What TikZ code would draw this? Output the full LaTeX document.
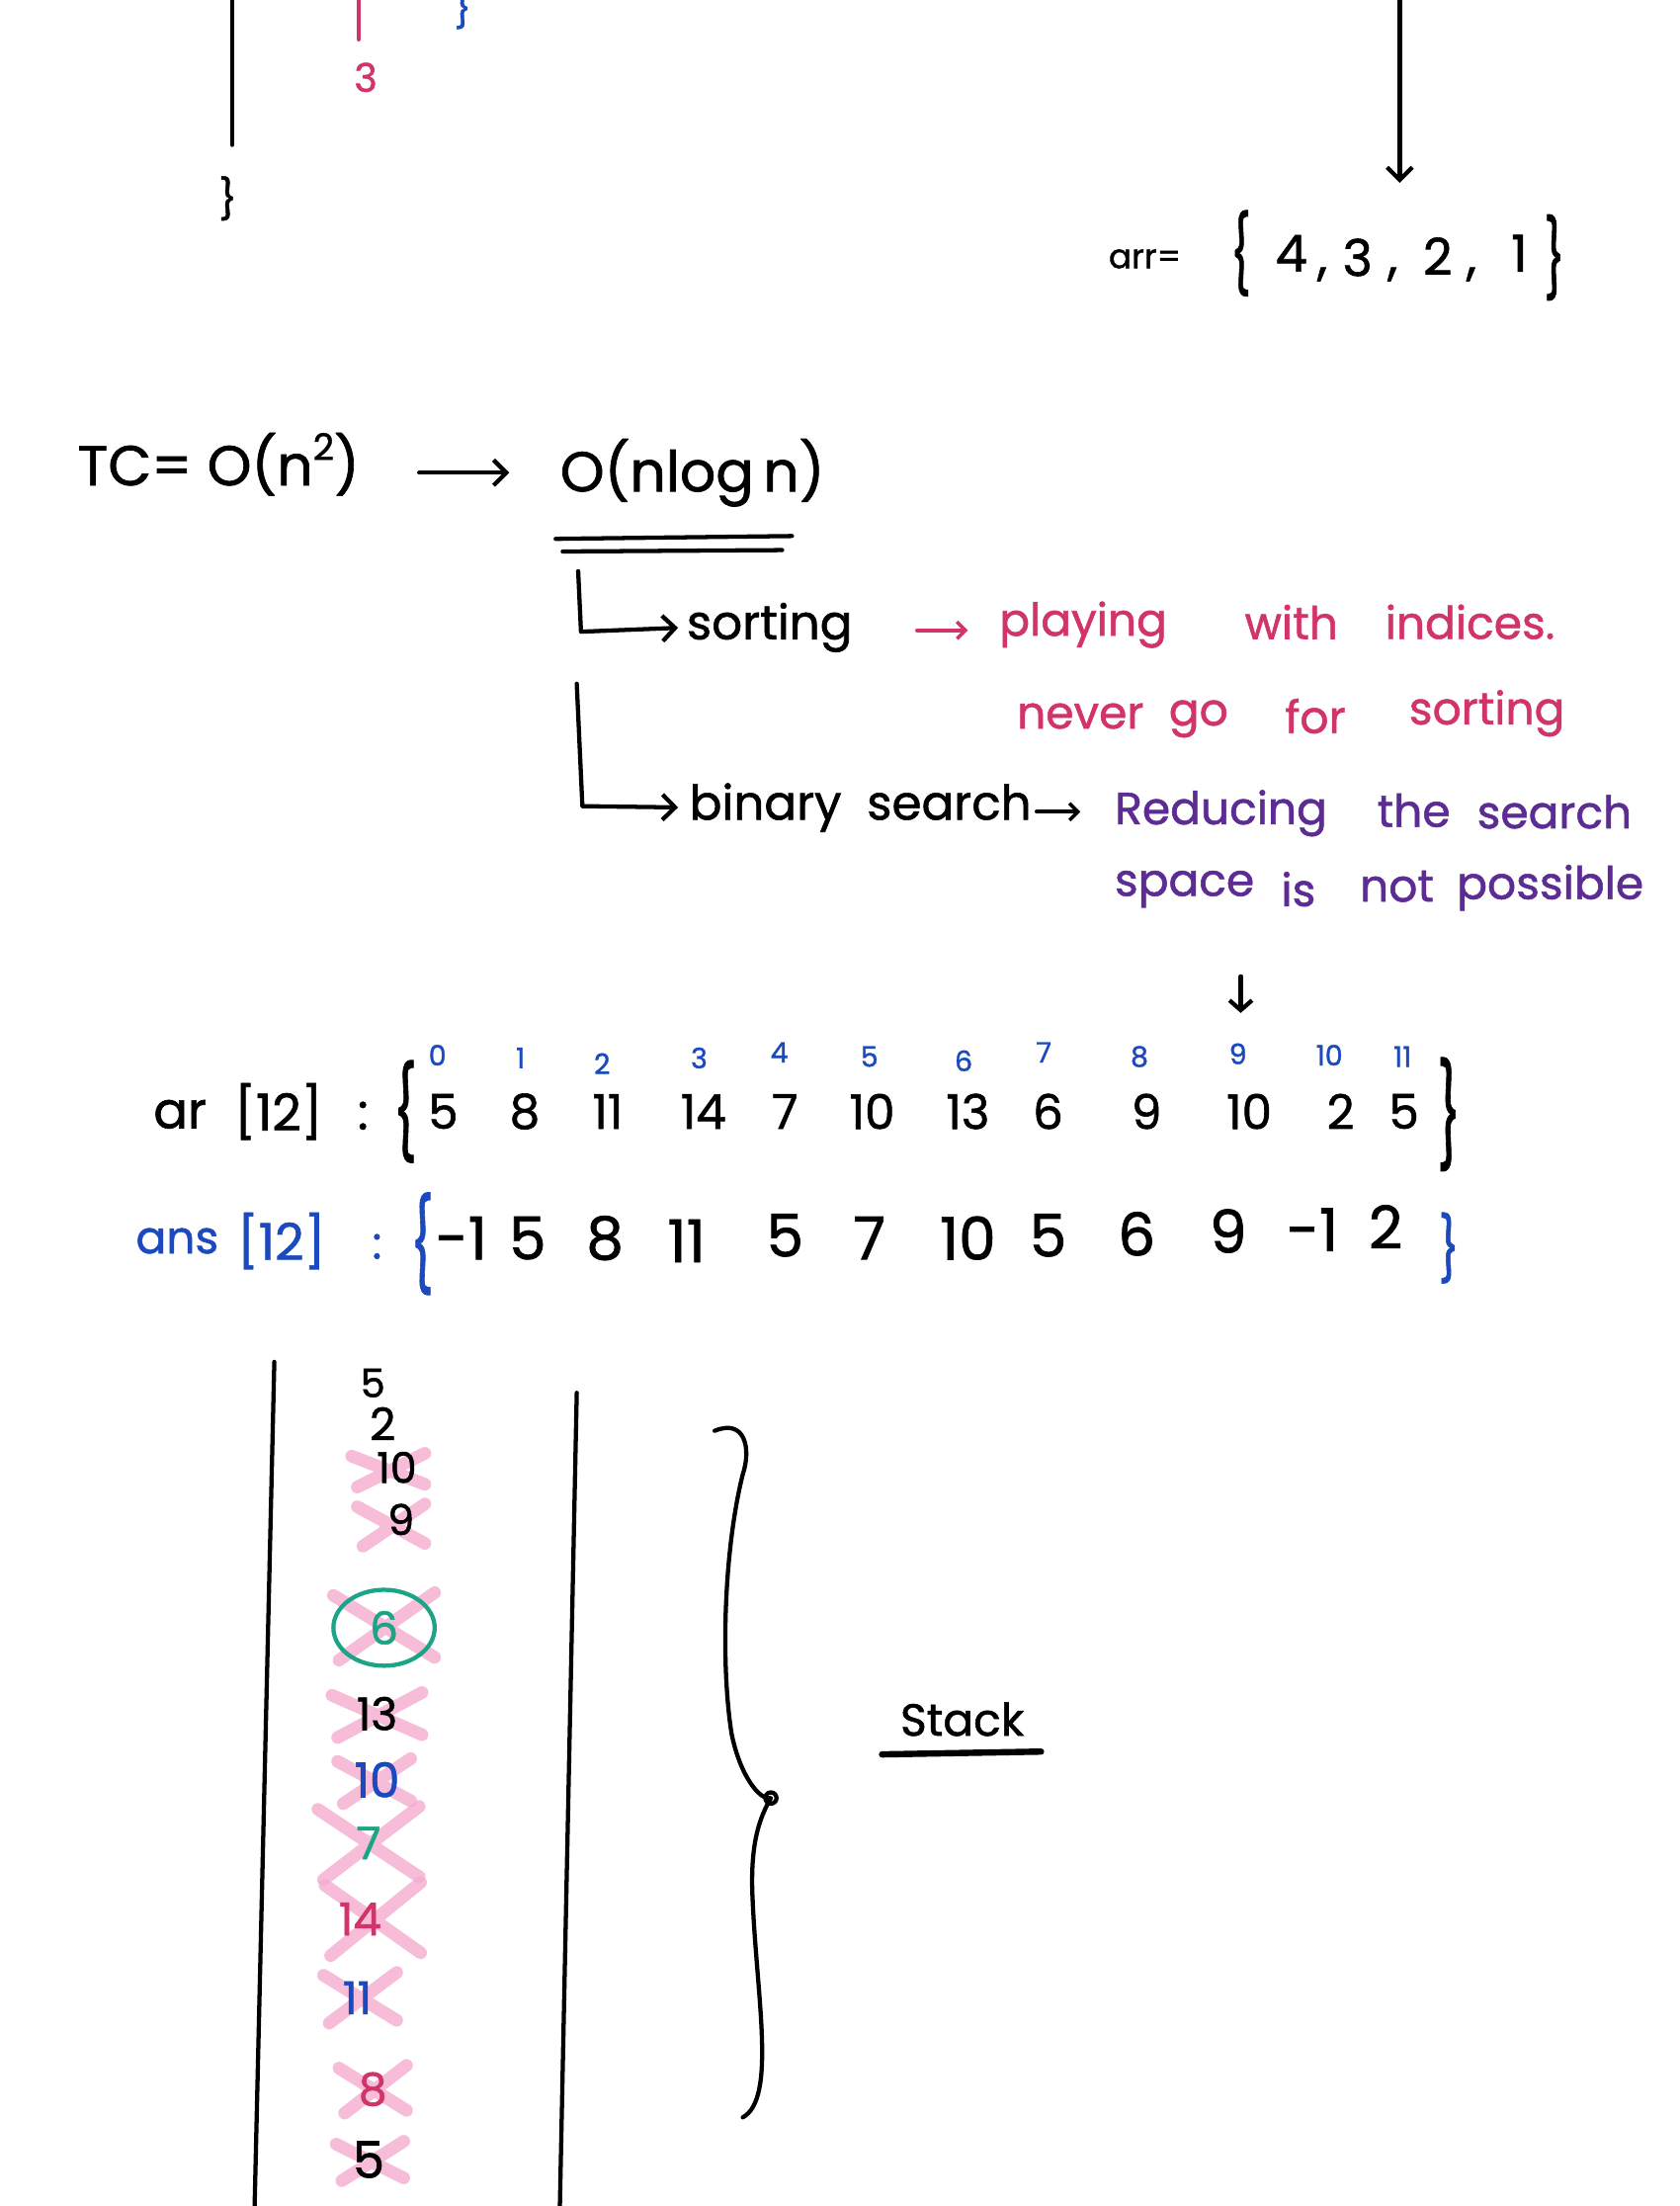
\documentclass[tikz,border=0pt]{standalone}
\usepackage{fontspec}
\setmainfont{Poppins}[FakeBold=1.2]
\usetikzlibrary{arrows.meta}
\definecolor{inkpink}{RGB}{208,52,104}
\definecolor{inkblue}{RGB}{28,74,190}
\definecolor{inkpurple}{RGB}{92,44,148}
\definecolor{inkgreen}{RGB}{28,164,134}
\definecolor{crossc}{RGB}{245,172,206}
\newcommand{\hwsize}[1]{\fontsize{#1}{#1}\selectfont}
\newcommand{\tallbr}[2]{\scalebox{1}[#1]{#2}}
\tikzset{
  hw/.style={font=\hwsize{#1}, inner sep=0pt, anchor=center},
  hw/.default=30,
  ink/.style={line width=3pt, line cap=round, line join=round},
  barb/.style={-{Straight Barb[length=9pt,width=18pt,line width=3pt]}},
  xmark/.style={line width=9pt, line cap=round, draw=crossc, opacity=0.8}
}
\begin{document}
\begin{tikzpicture}[x=1pt,y=-1pt]
\useasboundingbox (0,0) rectangle (1194,1568);

% ---------- top fragment ----------
\coordinate (tl1) at (165,0);
\coordinate (tl2) at (165,103);
\draw[ink] (tl1) -- (tl2);
\coordinate (tp1) at (255,0);
\coordinate (tp2) at (255,28);
\draw[ink,draw=inkpink] (tp1) -- (tp2);
\node[hw=28, text=inkpink] (p3) at (260,55) {3};
\node[hw=26, text=inkblue] (bbr) at (329,6) {\}};
\node[hw=28] (kbr) at (162,141) {\}};
\coordinate (ra1) at (995,0);
\coordinate (ra2) at (995,130);
\draw[ink,barb] (ra1) -- (ra2);
\node[hw=24, anchor=west] (arrlbl) at (788,184) {arr=};
\node[hw=32] (arrL) at (882,180) {\tallbr{1.7}{\{}};
\node[hw=36] (arrv1) at (918,180) {4};
\node[hw=36] (arrc1) at (940,195) {,};
\node[hw=36] (arrv2) at (965,183) {3};
\node[hw=36] (arrc2) at (990,195) {,};
\node[hw=36] (arrv3) at (1022,182) {2};
\node[hw=36] (arrc3) at (1046,195) {,};
\node[hw=36] (arrv4) at (1080,180) {1};
\node[hw=32] (arrR) at (1105,183) {\tallbr{1.7}{\}}};

% ---------- complexity ----------
\node[hw=40, anchor=west] (tc) at (55,330) {TC=\ O(n\raisebox{0.45em}{\hwsize{26}2})};
\node[hw=40, anchor=west] (onl) at (398,336) {O(nlog\,n)};
\coordinate (ta1) at (298,336);
\coordinate (ta2) at (362,336);
\draw[ink,barb] (ta1) -- (ta2);
\coordinate (u1a) at (395,383); \coordinate (u1b) at (563,381);
\coordinate (u2a) at (400,392); \coordinate (u2b) at (556,391);
\draw[ink] (u1a) -- (u1b);
\draw[ink] (u2a) -- (u2b);

% ---------- branches ----------
\node[hw=34, anchor=west] (sorting) at (488,446) {sorting};
\node[hw=34, anchor=west] (binary) at (490,574) {binary\ \ search};
\coordinate (e1) at (411,406);
\coordinate (e2) at (410,486);
\draw[ink,barb,shorten >=6pt] (e1) -- (413,449) -- (sorting.west);
\draw[ink,barb,shorten >=8pt] (e2) -- (414,573) -- (binary.west);

\coordinate (pa1) at (652,448);
\coordinate (pa2) at (688,448);
\draw[ink,-{Straight Barb[length=6pt,width=12pt,line width=2.5pt]},draw=inkpink] (pa1) -- (pa2);
\foreach \n/\w/\x/\y in {pw1/playing/770/444,pw2/with/918/442,pw3/indices./1045/442,
                         pw4/never/768/509,pw5/go/852/511,pw6/for/935/509,pw7/sorting/1057/507}
  \node[hw=32, text=inkpink] (\n) at (\x,\y) {\w};
\foreach \n/\w/\x/\y in {rw1/Reducing/868/578,rw2/the/1005/576,rw3/search/1105/577,
                         rw4/space/842/632,rw5/is/923/632,rw6/not/993/630,rw7/possible/1102/631}
  \node[hw=32, text=inkpurple] (\n) at (\x,\y) {\w};
\coordinate (sa1) at (737,577);
\coordinate (sa2) at (768,577);
\draw[ink,-{Straight Barb[length=6pt,width=12pt,line width=2.5pt]}] (sa1) -- (sa2);

\coordinate (da1) at (882,694);
\coordinate (da2) at (882,720);
\draw[ink,-{Straight Barb[length=7pt,width=16pt,line width=3pt]}] (da1) -- (da2);

% ---------- array ----------
\foreach \i/\x/\y in {0/311/750,1/370/752,2/428/756,3/497/752,4/554/748,5/618/751,6/685/754,7/742/748,8/810/751,9/880/749,10/945/750,11/997/751}
  \node[hw=20, text=inkblue] (idx\i) at (\x,\y) {\i};
\node[hw=36] (arlbl1) at (128,792) {ar};
\node[hw=36] (arlbl2) at (198,790) {[12]};
\node[hw=36] (arlbl3) at (258,793) {:};
\node[hw=36] (arL) at (288,790) {\tallbr{1.8}{\{}};
\foreach \i/\v/\x in {0/5/315,1/8/373,2/11/432,3/14/500,4/7/558,5/10/620,6/13/688,7/6/745,8/9/815,9/10/888,10/2/953,11/5/998}
  \node[hw=34] (ar\i) at (\x,790) {\v};
\node[hw=36] (arR) at (1030,792) {\tallbr{2}{\}}};

\node[hw=32, text=inkblue] (anslbl1) at (126,882) {ans};
\node[hw=36, text=inkblue] (anslbl2) at (200,882) {[12]};
\node[hw=32, text=inkblue] (anslbl3) at (268,886) {:};
\node[hw=36, text=inkblue] (ansL) at (300,884) {\tallbr{1.8}{\{}};
\foreach \i/\v/\x/\y in {0/-1/328/880,1/5/375/880,2/8/430/880,3/11/488/882,4/5/558/878,5/7/618/880,6/10/688/880,7/5/745/878,8/6/808/877,9/9/873/875,10/-1/933/874,11/2/985/872}
  \node[hw=42] (ans\i) at (\x,\y) {\v};
\node[hw=32, text=inkblue] (ansR) at (1030,887) {\tallbr{1.4}{\}}};

% ---------- stack ----------
\coordinate (sl1) at (195,968); \coordinate (sl2) at (181,1568);
\coordinate (sr1) at (410,990); \coordinate (sr2) at (398,1568);
\draw[ink] (sl1) -- (sl2);
\draw[ink] (sr1) -- (sr2);

% crosses (center x, y, half width, half height)
\foreach \cx/\cy/\hx/\hy in {276/1045/26/12, 278/1084/24/15, 273/1156/36/24, 268/1219/32/16, 266/1266/26/16, 262/1310/36/26, 265/1364/34/26, 256/1420/26/18, 265/1485/24/17, 263/1536/24/14}
  \draw[xmark] (\cx-\hx,\cy-\hy+2) -- (\cx+\hx,\cy+\hy-2)
               (\cx-\hx+4,\cy+\hy) -- (\cx+\hx,\cy-\hy);

\node[hw=28] (s1) at (265,983) {5};
\node[hw=32] (s2) at (272,1012) {2};
\node[hw=30] (s3) at (282,1043) {10};
\node[hw=30] (s4) at (285,1080) {9};
\node[hw=32, text=inkgreen] (s5) at (273,1157) {6};
\draw[line width=3pt, draw=inkgreen] (s5) ellipse [x radius=36, y radius=27];
\node[hw=32] (s6) at (268,1218) {13};
\node[hw=34, text=inkblue] (s7) at (268,1265) {10};
\node[hw=32, text=inkgreen] (s8) at (262,1310) {7};
\node[hw=32, text=inkpink] (s9) at (256,1364) {14};
\node[hw=32, text=inkblue] (s10) at (254,1420) {11};
\node[hw=32, text=inkpink] (s11) at (265,1485) {8};
\node[hw=36] (s12) at (262,1535) {5};

% brace
\coordinate (bt) at (508,1017);
\coordinate (bm) at (548,1278);
\coordinate (bb) at (528,1505);
\draw[ink] (bt) .. controls (530,1008) and (534,1030) .. (528,1048)
  .. controls (515,1100) and (512,1180) .. (520,1232)
  .. controls (526,1262) and (540,1280) .. (bm)
  .. controls (540,1292) and (533,1310) .. (535,1350)
  .. controls (538,1420) and (552,1492) .. (bb);
\draw[ink] (bm) circle (4);

\node[hw=32] (stack) at (684,1222) {Stack};
\coordinate (su1) at (627,1247); \coordinate (su2) at (740,1245);
\draw[line width=4.5pt, line cap=round] (su1) -- (su2);
\end{tikzpicture}
\end{document}
